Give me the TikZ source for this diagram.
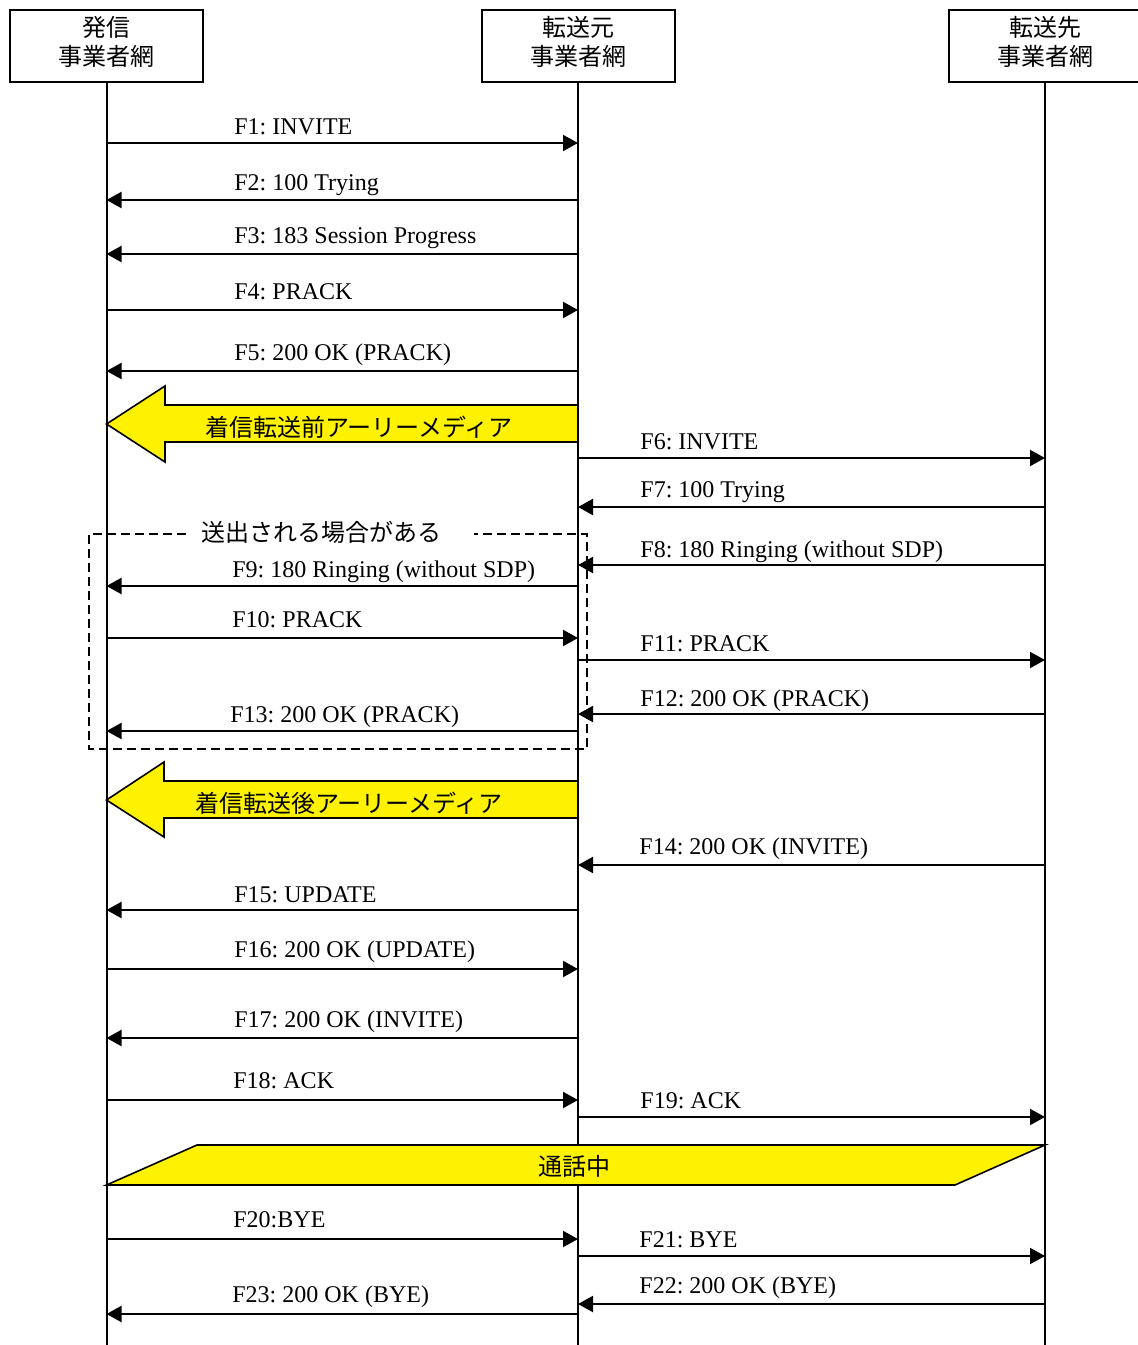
\documentclass[tikz,border=0pt]{standalone}
\usepackage{fontspec}
\setmainfont{Liberation Serif}
\newfontfamily\jpfont{Noto Sans CJK JP}
\usetikzlibrary{arrows.meta, positioning}
\frenchspacing

\begin{document}
\begin{tikzpicture}[x=0.5pt,y=-0.5pt,on grid,font=\fontsize{12}{14.5}\selectfont,
  party/.style={draw,line width=1pt,minimum width=96.5pt,minimum height=36pt,text depth=5pt,align=center,font=\jpfont\fontsize{12}{14.5}\selectfont},
  life/.style={line width=1pt},
  msg/.style={line width=1pt,-{Triangle[length=7.5pt,width=8pt]}},
  lbl/.style={anchor=base west,inner sep=0pt},
  media/.style={draw,line width=0.8pt,fill=yellow,line join=miter},
  jp/.style={inner sep=0pt,font=\jpfont\fontsize{12}{14.5}\selectfont}]
\useasboundingbox (0,0) rectangle (1137,1345);

\node[party] (org) at (106.5,46) {発信\\事業者網};
\node[party] (src) [right=235.75pt of org] {転送元\\事業者網};
\node[party] (dst) [right=233.5pt of src] {転送先\\事業者網};

\draw[life] (org.south) -- (org |- 0,1345);
\draw[life] (src.south) -- (src |- 0,1345);
\draw[life] (dst.south) -- (dst |- 0,1345);

\foreach \y/\b/\s/\t/\lx/\l [count=\i] in {
  143/134/org/src/234/{F1: INVITE},
  200/190/src/org/234/{F2: 100 Trying},
  254/243/src/org/234/{F3: 183 Session Progress},
  310/299/org/src/234/{F4: PRACK},
  371/360/src/org/234/{F5: 200 OK (PRACK)},
  458/449/src/dst/640/{F6: INVITE},
  507/497/dst/src/640/{F7: 100 Trying},
  565/557/dst/src/640/{F8: 180 Ringing (without SDP)},
  586/577/src/org/232/{F9: 180 Ringing (without SDP)},
  638/627/org/src/232/{F10: PRACK},
  660/651/src/dst/640/{F11: PRACK},
  714/706/dst/src/640/{F12: 200 OK (PRACK)},
  731/722/src/org/230/{F13: 200 OK (PRACK)},
  865/854/dst/src/639/{F14: 200 OK (INVITE)},
  910/902/src/org/234/{F15: UPDATE},
  969/957/org/src/234/{F16: 200 OK (UPDATE)},
  1038/1027/src/org/234/{F17: 200 OK (INVITE)},
  1100/1088/org/src/233/{F18: ACK},
  1117/1108/src/dst/640/{F19: ACK},
  1239/1227/org/src/233/{F20:BYE},
  1256/1247/src/dst/639/{F21: BYE},
  1304/1293/dst/src/639/{F22: 200 OK (BYE)},
  1314/1302/src/org/232/{F23: 200 OK (BYE)}}
{
  \draw[msg] (\s |- 0,\y) -- (\t |- 0,\y);
  \node[lbl] (m\i) at (\lx,\b) {\l};
}

\draw[media] (org |- 0,424) -- (165,386) -- (165,405) -- (src |- 0,405)
  -- (src |- 0,442) -- (165,442) -- (165,462) -- cycle;
\node[jp] (before) at (359,427) {着信転送前アーリーメディア};

\draw[dashed,line width=1.2pt,dash pattern=on 4.5pt off 2.5pt]
  (186,534) -- (89,534) -- (89,749) -- (587,749) -- (587,534) -- (474,534);
\node[jp] (maybe) at (321.5,532) {送出される場合がある};

\draw[media] (org |- 0,800) -- (164,762) -- (164,781) -- (src |- 0,781)
  -- (src |- 0,818) -- (164,818) -- (164,837) -- cycle;
\node[jp] (after) at (349,803) {着信転送後アーリーメディア};

\draw[media] (org |- 0,1185) -- (197,1145) -- (dst |- 0,1145) -- (955,1185) -- cycle;
\node[jp] (talk) at (574,1166) {通話中};
\end{tikzpicture}
\end{document}
